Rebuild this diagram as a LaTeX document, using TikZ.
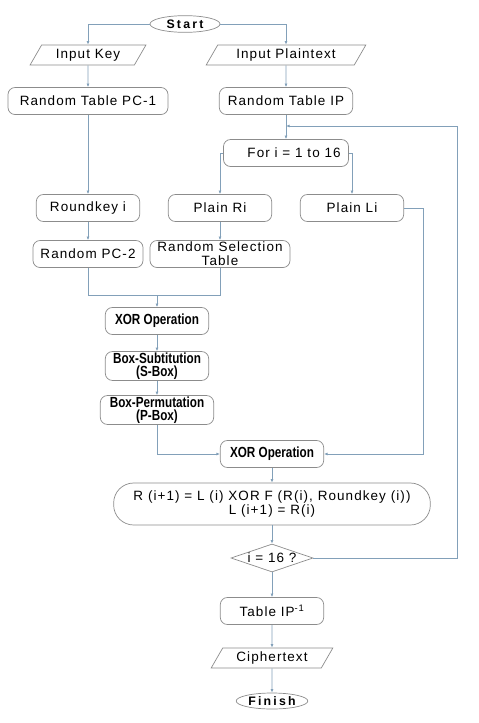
\documentclass[tikz,border=0pt]{standalone}
\usepackage{fontspec}
\setmainfont{Liberation Sans}
\newfontfamily\spacedfont[LetterSpace=8]{Liberation Sans}
\newfontfamily\widefont[LetterSpace=18]{Liberation Sans}
\newfontfamily\narrowfont[FakeStretch=0.8]{Liberation Sans}
\usetikzlibrary{shapes.geometric}
\usetikzlibrary{arrows.meta}
\usepackage{xcolor}

\begin{document}
\begin{tikzpicture}[x=0.03cm, y=-0.03cm]

    % style
    \definecolor{linecol}{RGB}{130, 160, 185}
    \definecolor{boxcol}{RGB}{140, 140, 140}
    \tikzset{
        box/.style={rectangle, rounded corners=6pt, draw=boxcol, line width=0.6pt, align=center, minimum height=0.81cm, inner sep=1pt, font=\spacedfont\fontsize{11.5}{11.8}\selectfont},
        boldbox/.style={box, font=\narrowfont\bfseries\fontsize{12.5}{11}\selectfont},
        io/.style={trapezium, trapezium left angle=60, trapezium right angle=120, draw=boxcol, line width=0.6pt, minimum height=0.6cm, inner sep=1pt, font=\spacedfont\fontsize{11.5}{12}\selectfont},
        terminal/.style={ellipse, draw=boxcol, line width=0.6pt, inner sep=0pt, font=\widefont\bfseries\fontsize{10.5}{11}\selectfont},
        line/.style={draw=linecol, line width=0.6pt},
        arrow/.style={line, -{Latex[length=3pt, width=2.5pt]}}
    }

    % fixed size of the figure
    \useasboundingbox (0,0) rectangle (479,723);

    % key and plaintext inputs
    \node [terminal, minimum width=2.1cm, minimum height=0.5cm] (start) at (185,24) {Start};
    \node [io, minimum width=2.6cm] (key) at (88,55) {Input Key};
    \node [io, minimum width=4.1cm] (plain) at (286,55) {Input Plaintext};
    \node [box, minimum width=4.8cm] (pcone) at (88,101) {Random Table PC-1};
    \node [box, minimum width=4.0cm] (ip) at (286,101) {Random Table IP};

    % round loop
    \node [box, minimum width=3.75cm] (fori) at (286,153) {\hspace{1.2em}For i = 1 to 16};
    \node [box, minimum width=3.1cm] (roundkey) at (88,208) {Roundkey i};
    \node [box, minimum width=3.1cm] (ri) at (220,208) {Plain Ri};
    \node [box, minimum width=3.1cm] (li) at (352,208) {Plain Li};
    \node [box, minimum width=3.3cm] (pctwo) at (88,254) {Random PC-2};
    \node [box, minimum width=4.2cm] (selection) at (220,254) {Random Selection\\Table};

    % function F
    \node [boldbox, minimum width=3.1cm] (xorone) at (157,321) {XOR Operation};
    \node [boldbox, minimum width=3.1cm] (sbox) at (157,366) {Box-Subtitution\\(S-Box)};
    \node [boldbox, minimum width=3.4cm] (pbox) at (157,410) {Box-Permutation\\(P-Box)};
    \node [boldbox, minimum width=3.1cm] (xortwo) at (272,454) {XOR Operation};
    \node [box, rounded corners=0.6cm, minimum width=9.5cm, minimum height=1.26cm, font=\spacedfont\fontsize{11.5}{12}\selectfont] (swap) at (272,504) {R (i+1) = L (i) XOR F (R(i), Roundkey (i))\\L (i+1) = R(i)};
    \node [diamond, draw=boxcol, line width=0.6pt, aspect=2.9, inner sep=0pt, minimum width=2.46cm, minimum height=0.84cm, font=\spacedfont\fontsize{11.5}{12}\selectfont] (test) at (272,558) {i = 16 ?};

    % output
    \node [box, minimum width=3.1cm] (ipinv) at (272,611) {Table IP\textsuperscript{-1}};
    \node [io, minimum width=2.7cm] (cipher) at (272,658) {Ciphertext};
    \node [terminal, minimum width=2.15cm, minimum height=0.48cm] (finish) at (272,701) {Finish};

    % reference coordinates
    \coordinate (loopjoin) at (286,126);
    \coordinate (loopcorner) at (457,126);
    \coordinate (merge) at (157,295);
    \coordinate (libend) at (423,208);

    % connectors
    \draw [arrow] (start.west) -| (key.north);
    \draw [arrow] (start.east) -| (plain.north);
    \draw [arrow] (key) -- (pcone);
    \draw [arrow] (plain) -- (ip);
    \draw [arrow] (pcone) -- (roundkey);
    \draw [arrow] (ip) -- (fori);
    \draw [arrow] (fori.west) -| (ri.north);
    \draw [arrow] (fori.east) -| (li.north);
    \draw [arrow] (roundkey) -- (pctwo);
    \draw [arrow] (ri) -- (selection);
    \draw [line] (pctwo.south) |- (merge);
    \draw [line] (selection.south) |- (merge);
    \draw [arrow] (merge) -- (xorone);
    \draw [arrow] (xorone) -- (sbox);
    \draw [arrow] (sbox) -- (pbox);
    \draw [arrow] (pbox.south) |- (xortwo.west);
    \draw [arrow] (li.east) -- (libend) |- (xortwo.east);
    \draw [arrow] (xortwo) -- (swap);
    \draw [arrow] (swap) -- (test);
    \draw [arrow] (test.east) -| (loopcorner) -- (loopjoin);
    \draw [arrow] (test) -- (ipinv);
    \draw [arrow] (ipinv) -- (cipher);
    \draw [arrow] (cipher) -- (finish);

\end{tikzpicture}
\end{document}
